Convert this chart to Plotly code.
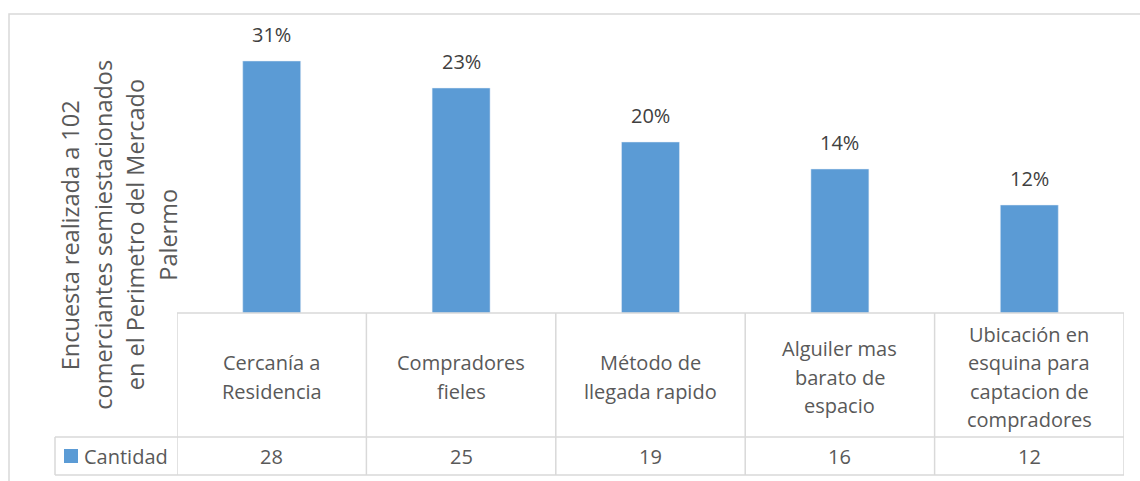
import plotly.graph_objects as go

categories = ["Cercanía a<br>Residencia", "Compradores<br>fieles", "Método de<br>llegada rapido",
              "Alguiler mas<br>barato de<br>espacio", "Ubicación en<br>esquina para<br>captacion de<br>compradores"]
cantidad = [28, 25, 19, 16, 12]
porcentaje = ["31%", "23%", "20%", "14%", "12%"]
series_name = "Cantidad"
y_title = "Encuesta realizada a 102<br>comerciantes semiestacionados<br>en el Perimetro del Mercado<br>Palermo"

W, H = 1140, 481
FONT = "Open Sans"
TXT = "#595959"
GRID = "#d9d9d9"
BAR = "#5b9bd5"

x0, x1 = 177, 1124
ytop, ybase = 43, 313
row1_bot, row2_bot = 437, 475
leg_left = 55

def px(x):
    return x / W

def py(y):
    return 1 - y / H

xs = list(range(len(categories)))

fig = go.Figure()
fig.add_trace(go.Bar(
    x=xs, y=cantidad, name=series_name, marker_color=BAR, width=0.306,
))

shapes = []
shapes.append(dict(type="rect", xref="paper", yref="paper", x0=px(9), x1=px(1145), y0=py(490), y1=py(14),
                   line=dict(color=GRID, width=1.5)))
for y in (ybase, row1_bot, row2_bot):
    left = x0 if y == ybase else leg_left
    shapes.append(dict(type="line", xref="paper", yref="paper", x0=px(left), x1=px(x1), y0=py(y), y1=py(y),
                       line=dict(color=GRID, width=1.5)))
for i in range(len(categories) + 1):
    shapes.append(dict(type="line", xref="x", yref="paper", x0=i - 0.5, x1=i - 0.5, y0=py(row2_bot), y1=py(ybase),
                       line=dict(color=GRID, width=1.5)))
shapes.append(dict(type="line", xref="paper", yref="paper", x0=px(leg_left), x1=px(leg_left),
                   y0=py(row2_bot), y1=py(row1_bot), line=dict(color=GRID, width=1.5)))
shapes.append(dict(type="rect", xref="paper", yref="paper", x0=px(64), x1=px(78), y0=py(463), y1=py(449),
                   line=dict(width=0), fillcolor=BAR))

annotations = []
CAT_LS = 28.5
cat_mid = (ybase + row1_bot) / 2 + 2
for i, c in enumerate(categories):
    annotations.append(dict(x=i, y=cantidad[i], xref="x", yref="y", text=porcentaje[i], showarrow=False,
                            font=dict(family=FONT, size=20, color="#404040"),
                            xanchor="center", yanchor="bottom", yshift=11))
    lines = c.split("<br>")
    n = len(lines)
    for k, ln in enumerate(lines):
        yc = cat_mid + (k - (n - 1) / 2) * CAT_LS
        annotations.append(dict(x=i, y=py(yc), xref="x", yref="paper", text=ln, showarrow=False,
                                font=dict(family=FONT, size=20, color=TXT), xanchor="center", yanchor="middle"))
    annotations.append(dict(x=i, y=py((row1_bot + row2_bot) / 2), xref="x", yref="paper", text=str(cantidad[i]),
                            showarrow=False, font=dict(family=FONT, size=20, color=TXT),
                            xanchor="center", yanchor="middle"))
annotations.append(dict(x=px(82), y=py((row1_bot + row2_bot) / 2), xref="paper", yref="paper", text=series_name,
                        showarrow=False, font=dict(family=FONT, size=20, color=TXT),
                        xanchor="left", yanchor="middle"))
t_lines = y_title.split("<br>")
T_LS = 32.5
t_mid_x, t_mid_y = 119, 235
for k, ln in enumerate(t_lines):
    xc = t_mid_x + (k - (len(t_lines) - 1) / 2) * T_LS
    annotations.append(dict(x=px(xc), y=py(t_mid_y), xref="paper", yref="paper", text=ln, textangle=-90,
                            showarrow=False, font=dict(family=FONT, size=23.5, color=TXT),
                            xanchor="center", yanchor="middle"))

fig.update_layout(
    width=W, height=H, margin=dict(l=0, r=0, t=0, b=0),
    paper_bgcolor="white", plot_bgcolor="white", showlegend=False,
    xaxis=dict(domain=[px(x0), px(x1)], range=[-0.5, len(categories) - 0.5], showticklabels=False,
               showgrid=False, zeroline=False, showline=False, ticks=""),
    yaxis=dict(domain=[py(ybase), py(ytop)], range=[0, 30], showticklabels=False, showgrid=False,
               zeroline=False, showline=False, ticks=""),
    shapes=shapes, annotations=annotations,
)

fig.write_html("out.html")
